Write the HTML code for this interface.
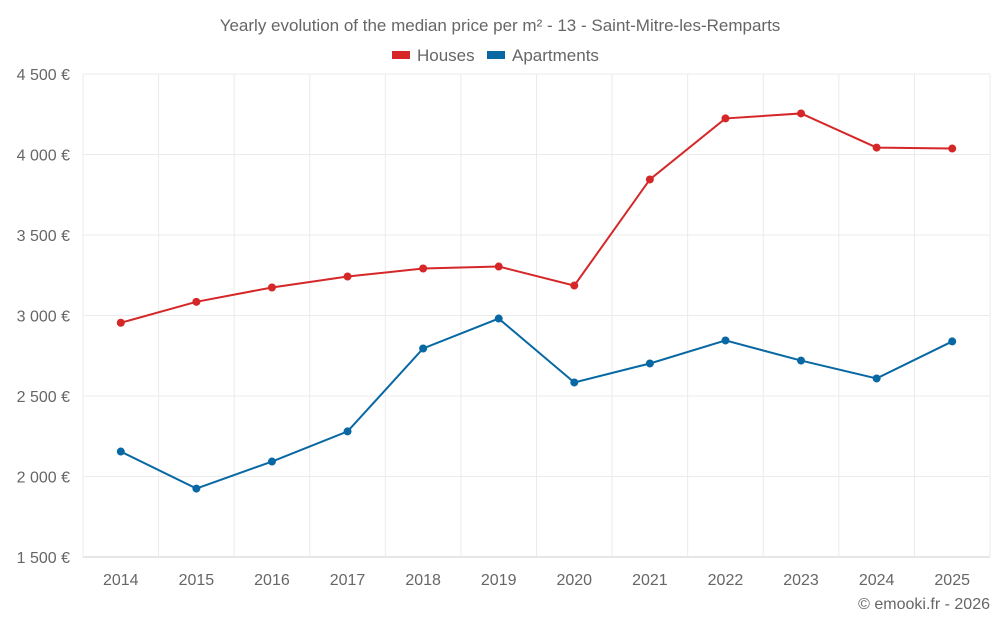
<!DOCTYPE html>
<html><head><meta charset="utf-8"><style>
body{margin:0;background:#fff;font-family:"Liberation Sans",sans-serif}
svg text{font-family:"Liberation Sans",sans-serif;fill:#666}
</style></head><body>
<svg id="c" width="1000" height="625">
<text x="500" y="31" text-anchor="middle" font-size="17">Yearly evolution of the median price per m² - 13 - Saint-Mitre-les-Remparts</text>
<g><rect x="392" y="51" width="18" height="8" fill="#d62728"/><text x="417" y="61" font-size="17">Houses</text></g>
<g><rect x="487" y="51" width="18" height="8" fill="#0868a3"/><text x="512" y="61" font-size="17">Apartments</text></g>
<g id="grid"></g><g id="marks"></g>
<text x="990" y="609" text-anchor="end" font-size="16">© emooki.fr - 2026</text>
</svg>
<script>
const years=[2014,2015,2016,2017,2018,2019,2020,2021,2022,2023,2024,2025];
const houses=[2955,3085,3174,3242,3292,3304,3186,3845,4224,4255,4043,4037];
const apartments=[2155,1925,2093,2280,2795,2981,2584,2702,2845,2720,2609,2839];
const yTicks=[1500,2000,2500,3000,3500,4000,4500];
const yLabels=["1 500 €","2 000 €","2 500 €","3 000 €","3 500 €","4 000 €","4 500 €"];
const L=83,R=990,T=74,B=557,ymin=1500,ymax=4500;
const step=(R-L)/years.length;
const x=i=>L+step*(i+0.5);
const y=v=>B-(v-ymin)/(ymax-ymin)*(B-T);
const NS="http://www.w3.org/2000/svg";
const g=document.getElementById('grid'),m=document.getElementById('marks');
function el(t,a,p){const e=document.createElementNS(NS,t);for(const k in a)e.setAttribute(k,a[k]);p.appendChild(e);return e;}
yTicks.forEach((v,i)=>{
 const l=el('line',{x1:L,x2:R,y1:y(v),y2:y(v),stroke:i==0?'#ccc':'#ebebeb'},g);
 
 
 const t=el('text',{x:70,y:y(v)+6,'text-anchor':'end','font-size':16},g);t.textContent=yLabels[i];
 
 
});
for(let i=0;i<=years.length;i++){
 const l=el('line',{x1:L+step*i,x2:L+step*i,y1:T,y2:B,stroke:'#ebebeb'},g);
 
 
}
years.forEach((yr,i)=>{
 const t=el('text',{x:x(i),y:585,'text-anchor':'middle','font-size':16},g);t.textContent=yr;
 
 
});
function series(d,c,n){
 const p=el('polyline',{points:d.map((v,i)=>x(i)+','+y(v)).join(' '),fill:'none',stroke:c,'stroke-width':2},m);
 
 
 d.forEach((v,i)=>{
  const ci=el('circle',{cx:x(i),cy:y(v),r:4,fill:c},m);
  
  
 });
}
series(houses,'#d62728','houses');
series(apartments,'#0868a3','apartments');
</script>
</body></html>
